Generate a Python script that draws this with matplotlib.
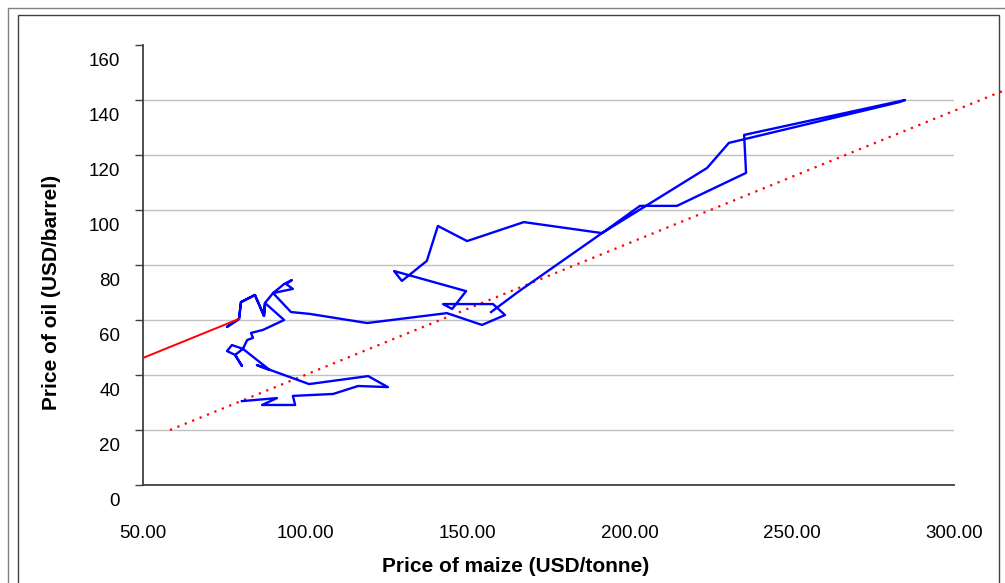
import matplotlib
matplotlib.use("Agg")
import matplotlib.pyplot as plt
import matplotlib.transforms as mtransforms
from matplotlib.patches import Rectangle

# price path: maize (USD/tonne) vs oil (USD/barrel)
maize = [80.5, 91.3, 86.7, 96.9, 96.2, 108.6, 116.3, 125.5, 119.4, 101.2,
         85.1, 89.1, 80.8, 77.4, 75.9, 78.4, 80.5, 78.4, 80.8, 82.1,
         83.9, 83.3, 87.0, 93.5, 87.6, 87.3, 84.5, 80.2, 79.6, 75.9,
         79.6, 80.2, 84.5, 87.3, 87.6, 90.1, 93.5, 95.9, 94.1, 96.2,
         90.1, 95.6, 101.5, 119.1, 143.7, 154.5, 161.6, 157.9, 142.5, 145.3,
         149.6, 127.4, 129.8, 137.5, 140.9, 149.9, 167.4, 191.5, 203.2, 214.6,
         235.9, 235.3, 284.9, 283.4, 230.6, 223.9, 191.5, 165.6, 157.3]
oil = [30.5, 31.6, 29.1, 29.1, 32.4, 33.1, 36.0, 35.6, 39.6, 36.7,
       43.6, 41.8, 49.5, 50.9, 48.7, 47.3, 43.3, 47.3, 49.5, 52.7,
       53.5, 55.3, 56.4, 60.0, 66.2, 61.5, 69.1, 66.5, 60.4, 57.5,
       60.4, 66.5, 69.1, 61.5, 66.2, 69.8, 73.1, 74.5, 73.1, 71.3,
       69.8, 62.9, 62.2, 58.9, 62.5, 58.2, 61.8, 65.8, 65.8, 64.0,
       70.5, 77.8, 74.2, 81.5, 94.2, 88.7, 95.6, 91.6, 101.5, 101.5,
       113.5, 127.3, 140.0, 139.3, 124.4, 115.3, 91.6, 70.2, 62.9]

# red solid line and red dotted line
red_x = [50.0, 79.6]
red_y = [46.2, 60.4]
dot_x = [58.3, 315.7]
dot_y = [20.0, 143.6]

y_ticks = [0, 20, 40, 60, 80, 100, 120, 140, 160]
x_ticks = [50, 100, 150, 200, 250, 300]

plt.rcParams["font.family"] = ["Liberation Sans", "DejaVu Sans"]

W, H = 1005, 583
fig = plt.figure(figsize=(W / 100, H / 100), dpi=100)
ax = fig.add_axes([143 / W, 1 - 485 / H, (954 - 143) / W, (485 - 45) / H])

ax.plot(maize, oil, color="#0000FF", lw=1.7, zorder=3)
ax.plot(red_x, red_y, color="#FF0000", lw=1.4, zorder=3)
ax.plot(dot_x, dot_y, color="#FF0000", lw=1.6, linestyle=(0, (1, 2.6)),
        clip_on=False, zorder=2)

ax.set_xlim(50, 300)
ax.set_ylim(0, 160)
ax.set_yticks(y_ticks)
ax.set_xticks(x_ticks)
ax.set_xticklabels(["%.2f" % v for v in x_ticks])
ax.set_yticklabels([str(v) for v in y_ticks])

for v in y_ticks[1:-1]:
    ax.axhline(v, color="#c0c0c0", lw=1.0, zorder=1)

for s in ["top", "right"]:
    ax.spines[s].set_visible(False)
for s in ["left", "bottom"]:
    ax.spines[s].set_color("#404040")
    ax.spines[s].set_linewidth(1.3)

ax.tick_params(axis="y", direction="out", length=5.5, width=1.0,
               color="#404040", pad=11, labelsize=13.5)
ax.tick_params(axis="x", direction="out", length=0, pad=29, labelsize=13.5)

# labels sit a bit lower than their ticks in the original
off = mtransforms.ScaledTranslation(0, -15 / 100, fig.dpi_scale_trans)
for lab in ax.get_yticklabels():
    lab.set_transform(lab.get_transform() + off)

fig.text(516 / W, 1 - 566 / H, "Price of maize (USD/tonne)", ha="center",
         va="center", fontsize=15, fontweight="bold")
fig.text(52 / W, 1 - 292 / H, "Price of oil (USD/barrel)", ha="center",
         va="center", rotation=90, fontsize=15, fontweight="bold")

# chart frames
fig.add_artist(Rectangle((8 / W, -0.1), 1.1, 1 - 8 / H + 0.1,
                         transform=fig.transFigure, fill=False,
                         edgecolor="#808080", lw=1.0))
fig.add_artist(Rectangle((18 / W, -0.1), (999 - 18) / W, 1 - 15 / H + 0.1,
                         transform=fig.transFigure, fill=False,
                         edgecolor="#404040", lw=1.0))

fig.savefig("out.png", dpi=100)
